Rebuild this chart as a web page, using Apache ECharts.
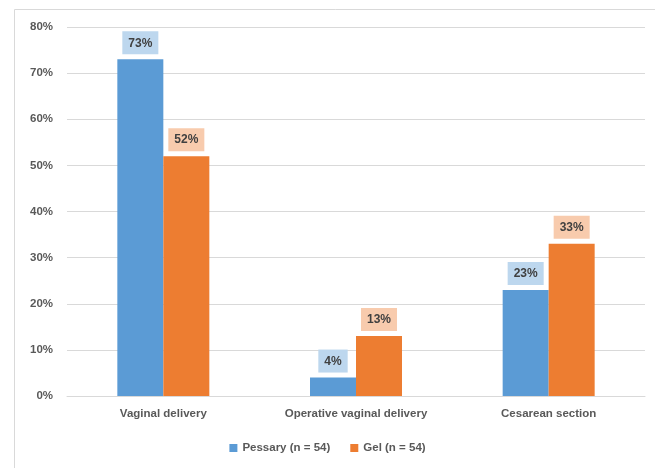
<!DOCTYPE html>
<html>
<head>
<meta charset="utf-8">
<script src="https://cdn.jsdelivr.net/npm/echarts@6/dist/echarts.min.js"></script>
<style>
  html, body { margin: 0; padding: 0; background: #fff; }
  #chart { width: 655px; height: 468px; }
</style>
</head>
<body>
<div id="chart"></div>
<script>
var categories = ['Vaginal delivery', 'Operative vaginal delivery', 'Cesarean section'];
var pessary = [73, 4, 23];
var gel = [52, 13, 33];
var seriesNames = ['Pessary (n = 54)', 'Gel (n = 54)'];

var myChart = echarts.init(document.getElementById('chart'));
var font = '"Liberation Sans", Arial, sans-serif';

function labelStyle(bg) {
    return {
        show: true,
        position: 'top',
        distance: 5,
        formatter: '{c}%',
        color: '#404040',
        fontFamily: font,
        fontWeight: 'bold',
        fontSize: 12,
        backgroundColor: bg,
        padding: [6, 6, 5, 6]
    };
}

myChart.setOption({
    animation: false,
    graphic: [{
        type: 'rect',
        shape: { x: 14.5, y: 9.5, width: 645, height: 470 },
        style: { fill: 'none', stroke: '#d9d9d9', lineWidth: 1 },
        silent: true
    }],
    grid: { left: 67, right: 10, top: 27, bottom: 72 },
    legend: {
        bottom: 9,
        left: 'center',
        itemWidth: 8,
        itemHeight: 8,
        itemGap: 20,
        icon: 'rect',
        textStyle: { color: '#595959', fontFamily: font, fontWeight: 'bold', fontSize: 11.5 },
        data: seriesNames
    },
    xAxis: {
        type: 'category',
        data: categories,
        axisLine: { lineStyle: { color: '#d9d9d9' } },
        axisTick: { show: false },
        axisLabel: { color: '#595959', fontFamily: font, fontWeight: 'bold', fontSize: 11.5, margin: 12 }
    },
    yAxis: {
        type: 'value',
        min: 0,
        max: 80,
        interval: 10,
        axisLine: { show: false },
        axisTick: { show: false },
        splitLine: { lineStyle: { color: '#d9d9d9' } },
        axisLabel: { formatter: '{value}%', color: '#595959', fontFamily: font, fontWeight: 'bold', fontSize: 11.5, margin: 14 }
    },
    series: [
        {
            name: seriesNames[0],
            type: 'bar',
            data: pessary,
            barWidth: 46,
            barGap: '0%',
            itemStyle: { color: '#5B9BD5' },
            label: labelStyle('#BDD7EE')
        },
        {
            name: seriesNames[1],
            type: 'bar',
            data: gel,
            barWidth: 46,
            itemStyle: { color: '#ED7D31' },
            label: labelStyle('#F8CBAD')
        }
    ]
});
</script>
</body>
</html>
